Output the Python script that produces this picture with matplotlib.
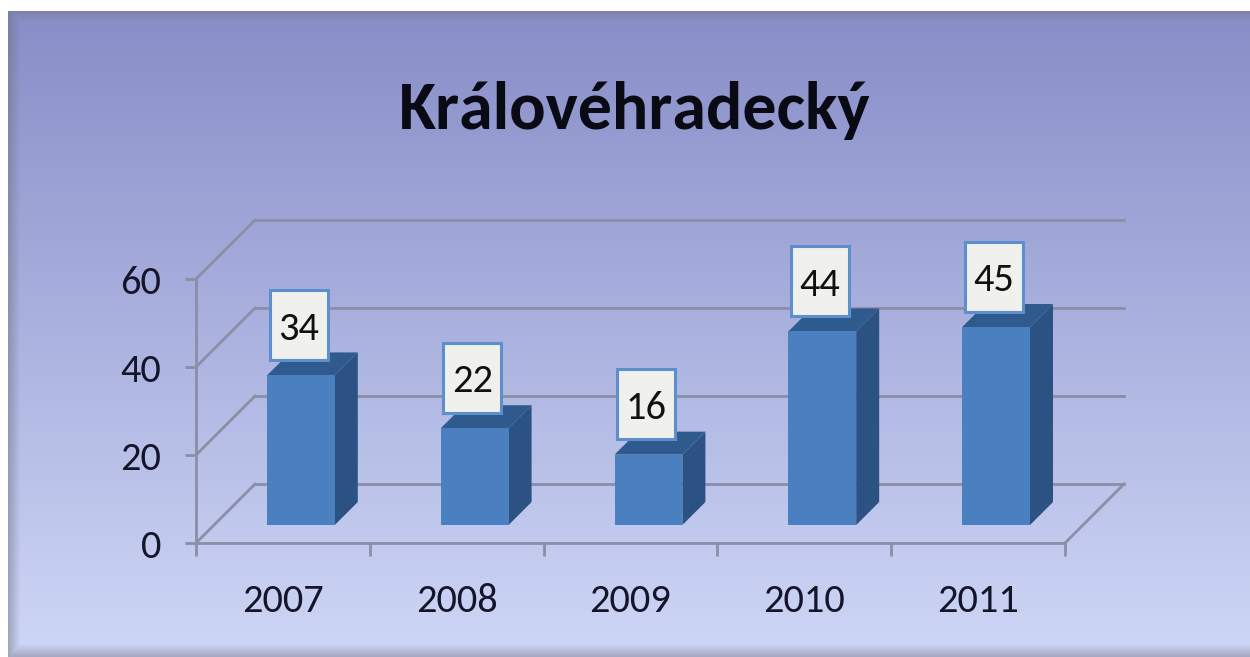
import numpy as np
import matplotlib.pyplot as plt
from matplotlib import font_manager
from matplotlib.font_manager import FontProperties
from matplotlib.patches import Polygon, Rectangle
from matplotlib.textpath import TextPath

# data
years = ['2007', '2008', '2009', '2010', '2011']
counts = [34, 22, 16, 44, 45]
y_ticks = [0, 20, 40, 60]
title = 'Královéhradecký'

W, H = 1250, 657

# 3d look: depth of the back wall in data units, bar depth as fractions of it
DX, DY = 0.3395, 13.4
BAR_W = 0.39
F0, F1 = 0.305, 0.695

FRONT = '#4A7FC0'
SIDE = '#2C5283'
TOP = '#2F5A8E'
LINE = '#8A8EA6'
INK = '#15152a'


def pick_font():
    for name in ['Carlito', 'Liberation Sans Narrow', 'Lato', 'Open Sans']:
        try:
            font_manager.findfont(FontProperties(family=name), fallback_to_default=False)
            return name
        except ValueError:
            pass
    return 'DejaVu Sans'


FONT = pick_font()


def fit_size(s, px, weight='normal', grow=1.0):
    """ font size in pt so that s is about px wide at 100 dpi """
    fp = FontProperties(family=FONT, weight=weight)
    w = TextPath((0, 0), s, size=100, prop=fp).get_extents().width
    return 100 * px / (w * 100 / 72) * grow


def background():
    yy = np.linspace(0, 1, H)[:, None]
    top = np.array([0x86, 0x8C, 0xC6]) / 255
    bot = np.array([0xCF, 0xD7, 0xF7]) / 255
    img = top + (bot - top) * yy[..., None] * np.ones((1, W, 1))
    xs = np.arange(W)[None, :]
    ys = np.arange(H)[:, None]
    shade = np.zeros((H, W))
    shade = np.maximum(shade, np.clip(1 - (xs - 8) / 12, 0, 1) * 0.45)
    shade = np.maximum(shade, np.clip(1 - (ys - 11) / 10, 0, 1) * 0.35)
    shade = np.maximum(shade, np.clip((ys - 643) / 14, 0, 1) * 0.45)
    grey = np.array([0.42, 0.42, 0.48])
    img = img * (1 - shade[..., None]) + grey * shade[..., None]
    img[:11, :, :] = 1.0
    img[:, :8, :] = 1.0
    return img


num_size = fit_size('2011', 68, grow=1.15)

fig = plt.figure(figsize=(W / 100, H / 100), dpi=100)
fig.patch.set_facecolor('white')
bg = fig.add_axes([0, 0, 1, 1])
bg.imshow(background(), aspect='auto', interpolation='bilinear')
bg.axis('off')

# front plane of the chart: x 196..1065 px, value 0..60 at y 543..279 px
ax = fig.add_axes([196 / W, (H - 543) / H, 869 / W, 264 / H])
ax.set_xlim(0, len(years))
ax.set_ylim(0, 60)
ax.patch.set_alpha(0)
for s in ['top', 'right']:
    ax.spines[s].set_visible(False)
for s in ['left', 'bottom']:
    ax.spines[s].set_color(LINE)
    ax.spines[s].set_linewidth(2)
    ax.spines[s].set_zorder(1)

ax.set_yticks(y_ticks)
ax.set_yticklabels([str(t) for t in y_ticks])
ax.set_xticks(np.arange(len(years) + 1))
ax.set_xticklabels([])
ax.set_xticks(np.arange(len(years)) + 0.5, minor=True)
ax.set_xticklabels(years, minor=True)
ax.tick_params(axis='y', length=8, width=2, color=LINE, pad=17,
               labelsize=num_size, labelcolor=INK)
ax.tick_params(axis='x', which='major', length=9, width=2, color=LINE)
ax.tick_params(axis='x', which='minor', length=0, pad=29,
               labelsize=num_size, labelcolor=INK)
for lab in ax.get_yticklabels() + ax.get_xticklabels(minor=True):
    lab.set_family(FONT)

# back wall gridlines and side wall diagonals
n = len(years)
for t in y_ticks:
    ax.plot([0, DX], [t, t + DY], color=LINE, lw=2, clip_on=False, zorder=1)
    ax.plot([DX, n + DX], [t + DY, t + DY], color=LINE, lw=2, clip_on=False, zorder=1)
ax.plot([n, n + DX], [0, DY], color=LINE, lw=2, clip_on=False, zorder=1)

# bars
d = F1 - F0
box_w, box_h = 58 / 173.8, 70 / 4.4
for i, v in enumerate(counts):
    x0 = i + 0.5 - BAR_W / 2 + F0 * DX
    y0 = F0 * DY
    x1 = x0 + BAR_W
    ax.add_patch(Polygon([(x1, y0), (x1, y0 + v), (x1 + d * DX, y0 + v + d * DY),
                          (x1 + d * DX, y0 + d * DY)], closed=True,
                         facecolor=SIDE, edgecolor='none', clip_on=False, zorder=3))
    ax.add_patch(Polygon([(x0, y0 + v), (x1, y0 + v), (x1 + d * DX, y0 + v + d * DY),
                          (x0 + d * DX, y0 + v + d * DY)], closed=True,
                         facecolor=TOP, edgecolor='none', clip_on=False, zorder=3))
    ax.add_patch(Rectangle((x0, y0), BAR_W, v, facecolor=FRONT, edgecolor='none',
                           clip_on=False, zorder=3))
    cx, cy = i + 0.5 + 0.09, v + 15.5
    ax.add_patch(Rectangle((cx - box_w / 2, cy - box_h / 2), box_w, box_h,
                           facecolor='#F0F0EC', edgecolor='#5C8FCC', lw=2.2,
                           clip_on=False, zorder=4))
    ax.text(cx, cy, str(v), ha='center', va='center_baseline',
            fontsize=num_size, family=FONT, color='#111111', zorder=5, clip_on=False)

fig.text(635 / W, 1 - 129 / H, title, ha='center', va='baseline',
         fontsize=fit_size(title, 434, 'bold', grow=1.08), fontweight='bold',
         family=FONT, color='#0a0a14')

fig.savefig('out.png', dpi=100)
